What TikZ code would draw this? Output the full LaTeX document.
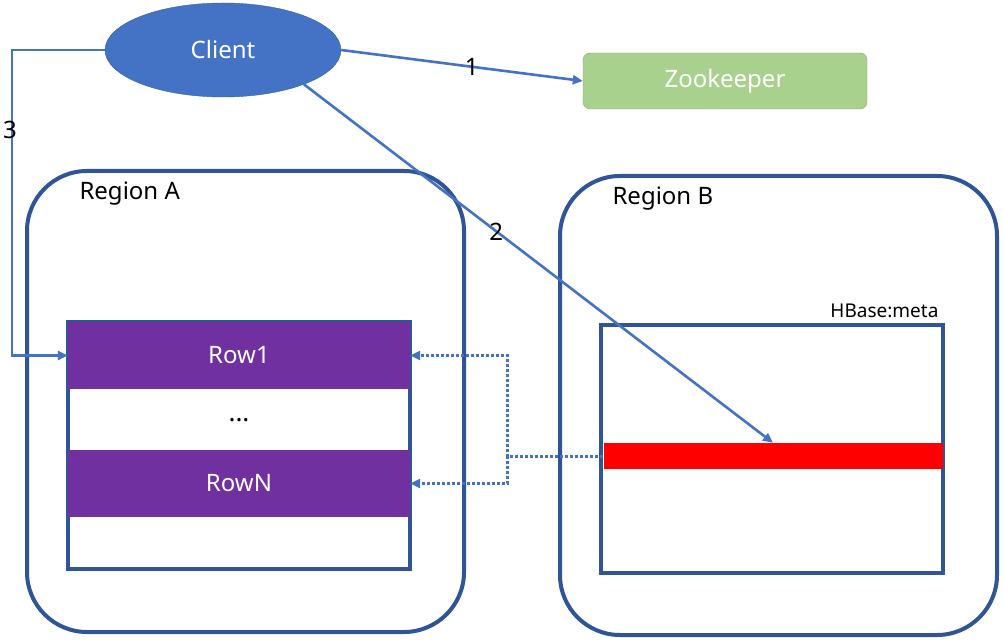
\documentclass[tikz,border=0pt]{standalone}
\usepackage{fontspec}
\setmainfont{Noto Sans}
\usetikzlibrary{shapes.geometric,arrows.meta}

\definecolor{lineblue}{HTML}{4472C4}
\definecolor{darkblue}{HTML}{2F5597}
\definecolor{rowpurple}{HTML}{7030A0}
\definecolor{zkgreen}{HTML}{A9D18E}

\tikzset{
  bigtext/.style={font=\fontsize{24}{28}\selectfont},
  region/.style={draw=darkblue, line width=4pt, rounded corners=60pt},
  table/.style={draw=darkblue, line width=3.5pt, minimum width=342pt},
  row/.style={fill=rowpurple, text=white, minimum width=342pt, minimum height=67pt, bigtext},
  link/.style={draw=lineblue, line width=2.6pt},
}

\begin{document}
\begin{tikzpicture}[x=1pt, y=-1pt, >={Triangle[length=10pt,width=9pt]}]
  \useasboundingbox (0,0) rectangle (1004,644);

  \node[region, minimum width=437pt, minimum height=461pt] (REGA) at (245.5,401.5) {};
  \node[region, minimum width=437pt, minimum height=459pt] (REGB) at (778.5,405.5) {};
  \node[bigtext, anchor=west] (LABA) at (76,194) {Region A};
  \node[bigtext, anchor=west] (LABB) at (609,199) {Region B};

  \node[table, minimum height=247pt] (TABA) at (239,445.5) {};
  \node[row] (ROW1) at (239,355.5) {Row1};
  \node[row] (ROWN) at (239,483.5) {RowN};
  \node[font=\fontsize{26}{30}\selectfont\bfseries] (DOTS) at (239,420) {...};

  \node[table, minimum height=248pt] (TABB) at (772,449) {};
  \node[fill=red, minimum width=339pt, minimum height=26pt] (META) at (773,456) {};
  \node[font=\fontsize{19}{23}\selectfont, anchor=east] (HMETA) at (942,311) {HBase:meta};

  \node[ellipse, fill=lineblue, draw=darkblue!70!lineblue, text=white, bigtext,
        minimum width=236pt, minimum height=94pt, inner sep=0pt] (CLI) at (223,50) {Client};
  \node[draw=zkgreen!80!black, fill=zkgreen, text=white, bigtext, rounded corners=7pt,
        minimum width=284pt, minimum height=56pt] (ZK) at (725,81) {Zookeeper};

  \draw[link, ->] (CLI.east) -- (ZK.west) node[pos=0.54, bigtext] {1};
  \draw[link, ->] (CLI.-23) -- (META.north) node[pos=0.41, bigtext] {2};
  \coordinate (TURN) at (12,50);
  \draw[link, ->] (CLI.west) -- (TURN) |- (ROW1.west);
  \node[bigtext] (NUM3) at (10,130) {3};

  \coordinate (JOIN) at (507,456);
  \draw[link, line width=3pt, dash pattern=on 3pt off 2pt, ->] (META.west) -- (JOIN) |- (ROW1.east);
  \draw[link, line width=3pt, dash pattern=on 3pt off 2pt, ->] (JOIN) |- (ROWN.east);
\end{tikzpicture}
\end{document}
